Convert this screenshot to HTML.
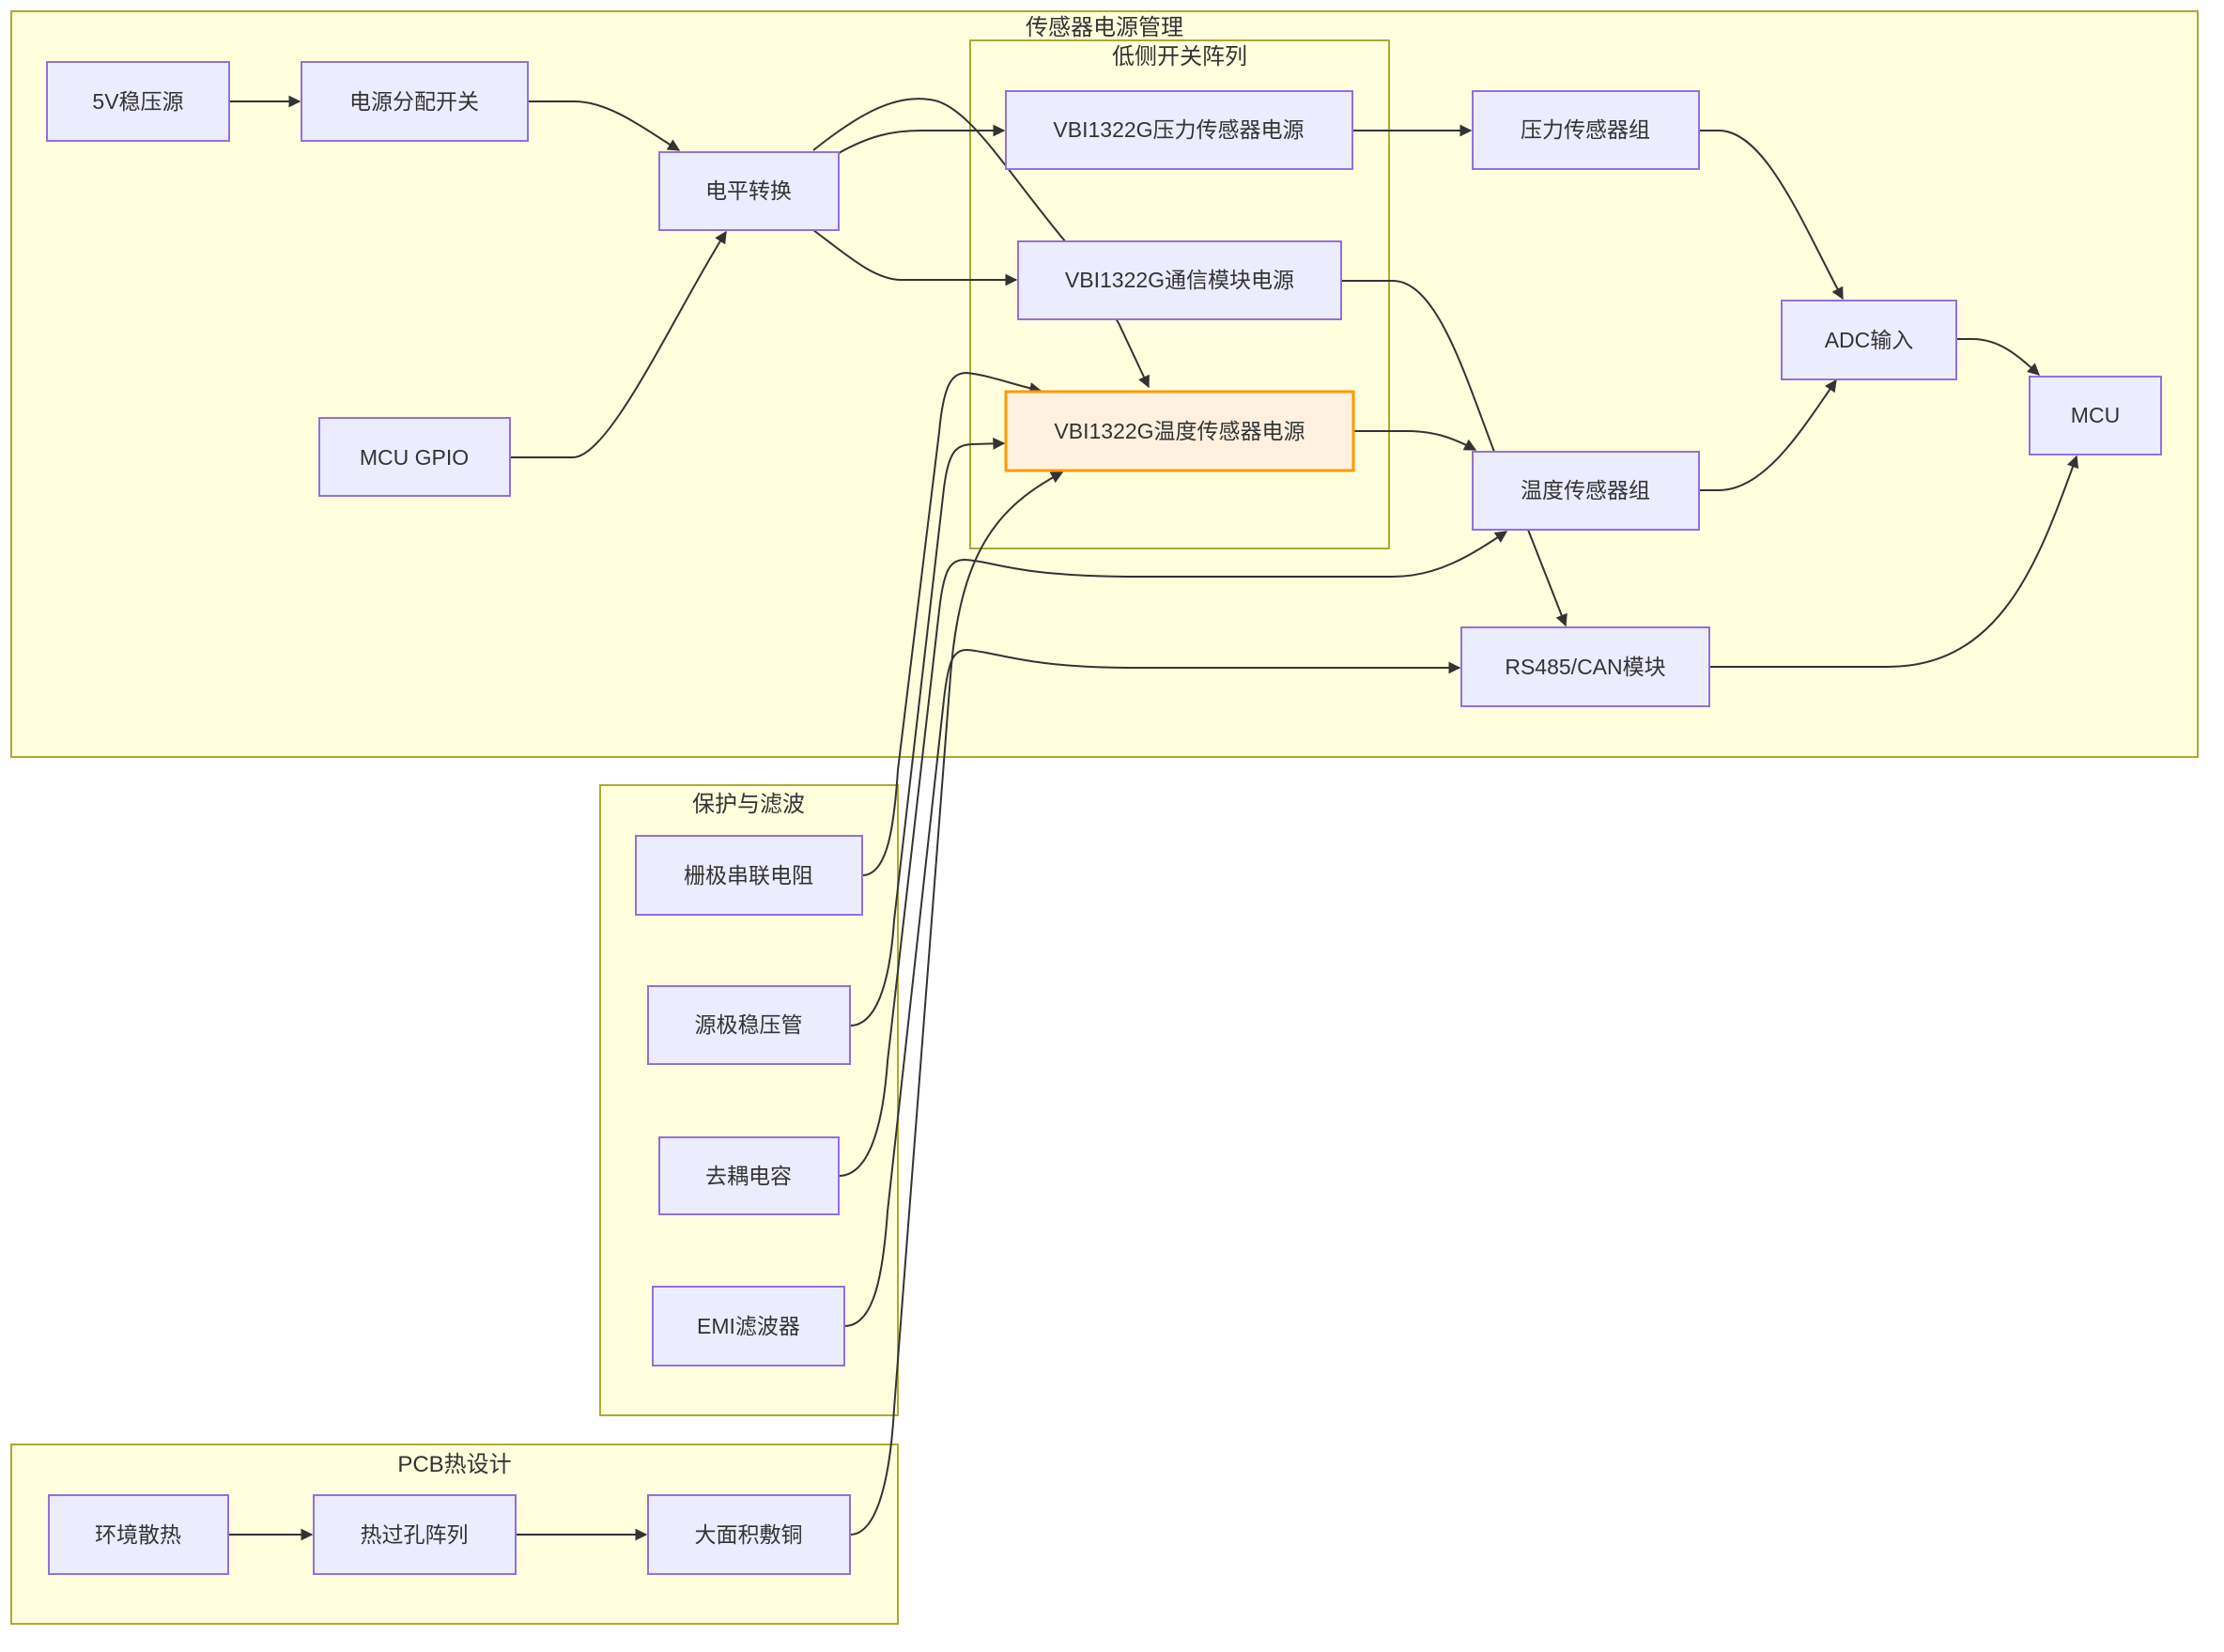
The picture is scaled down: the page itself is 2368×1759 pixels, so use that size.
<!DOCTYPE html>
<html><head><meta charset="utf-8"><style>
html,body{margin:0;padding:0;background:#fff;}
svg text{font-family:"Liberation Sans","Noto Sans CJK SC",sans-serif;fill:#333;}
</style></head><body>
<svg width="2368" height="1754" viewBox="0 0 2368 1754" xmlns="http://www.w3.org/2000/svg">
<defs>
<marker id="a" viewBox="0 0 10 10" refX="9" refY="5" markerWidth="13" markerHeight="13" markerUnits="userSpaceOnUse" orient="auto">
<path d="M0,0 L10,5 L0,10 z" fill="#333"/></marker>
</defs>
<g stroke="#aaaa33" stroke-width="2" fill="#ffffde">
<rect x="12" y="12" width="2328" height="794"/>
<rect x="1033" y="43" width="446" height="541"/>
<rect x="639" y="836" width="317" height="671"/>
<rect x="12" y="1538" width="944" height="191"/>
</g>
<g font-size="24" text-anchor="middle">
<text x="1176" y="37">传感器电源管理</text>
<text x="1256" y="68">低侧开关阵列</text>
<text x="797" y="864">保护与滤波</text>
<text x="484" y="1567">PCB热设计</text>
</g>
<g fill="none" stroke="#333" stroke-width="2">
<path d="M244,108 L319,108" marker-end="url(#a)"/>
<path d="M562,108 L612,108 C650,108 690,140 723,160" marker-end="url(#a)"/>
<path d="M543,487 L610,487 C650,487 720,330 773,247" marker-end="url(#a)"/>
<path d="M893,163 C925,145 950,139 980,139 L1069,139" marker-end="url(#a)"/>
<path d="M866,160 C910,125 950,100 990,106 C1030,110 1070,180 1135,258 L1191,344 L1223,412" marker-end="url(#a)"/>
<path d="M866,245 C900,270 930,298 960,298 L1082,298" marker-end="url(#a)"/>
<path d="M1440,139 L1566,139" marker-end="url(#a)"/>
<path d="M1428,299 L1483,299 C1530,299 1560,400 1591,481 L1627,564 L1667,666" marker-end="url(#a)"/>
<path d="M1442,459 L1498,459 C1525,459 1545,465 1571,479" marker-end="url(#a)"/>
<path d="M1809,139 L1830,139 C1880,139 1920,240 1962,318" marker-end="url(#a)"/>
<path d="M1809,522 L1830,522 C1880,522 1920,455 1955,405" marker-end="url(#a)"/>
<path d="M2083,361 L2100,361 C2130,361 2150,380 2171,399" marker-end="url(#a)"/>
<path d="M1820,710 L2010,710 C2130,710 2170,600 2211,486" marker-end="url(#a)"/>
<path d="M918,932 C945,932 952,880 956,820 L1000,460 C1005,405 1015,397 1030,397 C1055,400 1080,410 1108,416" marker-end="url(#a)"/>
<path d="M905,1092 C935,1092 948,1040 952,980 L1005,520 C1010,480 1018,474 1035,473 L1069,472" marker-end="url(#a)"/>
<path d="M893,1252 C925,1252 940,1200 945,1130 L1000,650 C1005,605 1012,596 1028,596 C1060,598 1080,613 1200,614 L1483,614 C1530,614 1565,592 1604,566" marker-end="url(#a)"/>
<path d="M899,1412 C930,1412 940,1360 945,1290 L1005,745 C1010,700 1016,692 1030,692 C1065,695 1090,710 1200,711 L1554,711" marker-end="url(#a)"/>
<path d="M905,1634 C935,1634 948,1570 952,1500 L1012,720 C1022,590 1060,540 1131,503" marker-end="url(#a)"/>
<path d="M243,1634 L332,1634" marker-end="url(#a)"/>
<path d="M549,1634 L688,1634" marker-end="url(#a)"/>
</g>
<g stroke="#9370db" stroke-width="2" fill="#ececff">
<rect x="50" y="66" width="194" height="84"/>
<rect x="321" y="66" width="241" height="84"/>
<rect x="702" y="162" width="191" height="83"/>
<rect x="340" y="445" width="203" height="83"/>
<rect x="1071" y="97" width="369" height="83"/>
<rect x="1084" y="257" width="344" height="83"/>
<rect x="1568" y="97" width="241" height="83"/>
<rect x="1568" y="481" width="241" height="83"/>
<rect x="1897" y="320" width="186" height="84"/>
<rect x="2161" y="401" width="140" height="83"/>
<rect x="1556" y="668" width="264" height="84"/>
<rect x="677" y="890" width="241" height="84"/>
<rect x="690" y="1050" width="215" height="83"/>
<rect x="702" y="1211" width="191" height="82"/>
<rect x="695" y="1370" width="204" height="84"/>
<rect x="52" y="1592" width="191" height="84"/>
<rect x="334" y="1592" width="215" height="84"/>
<rect x="690" y="1592" width="215" height="84"/>
</g>
<rect x="1071" y="417" width="370" height="84" fill="#fff0e0" stroke="#ff9800" stroke-width="3"/>
<g font-size="23" text-anchor="middle">
<text x="147" y="116">5V稳压源</text>
<text x="441" y="116">电源分配开关</text>
<text x="797" y="211">电平转换</text>
<text x="441" y="495">MCU GPIO</text>
<text x="1255" y="146">VBI1322G压力传感器电源</text>
<text x="1256" y="306">VBI1322G通信模块电源</text>
<text x="1256" y="467">VBI1322G温度传感器电源</text>
<text x="1688" y="146">压力传感器组</text>
<text x="1688" y="530">温度传感器组</text>
<text x="1990" y="370">ADC输入</text>
<text x="2231" y="450">MCU</text>
<text x="1688" y="718">RS485/CAN模块</text>
<text x="797" y="940">栅极串联电阻</text>
<text x="797" y="1099">源极稳压管</text>
<text x="797" y="1260">去耦电容</text>
<text x="797" y="1420">EMI滤波器</text>
<text x="147" y="1642">环境散热</text>
<text x="441" y="1642">热过孔阵列</text>
<text x="797" y="1642">大面积敷铜</text>
</g>
</svg>
</body></html>
